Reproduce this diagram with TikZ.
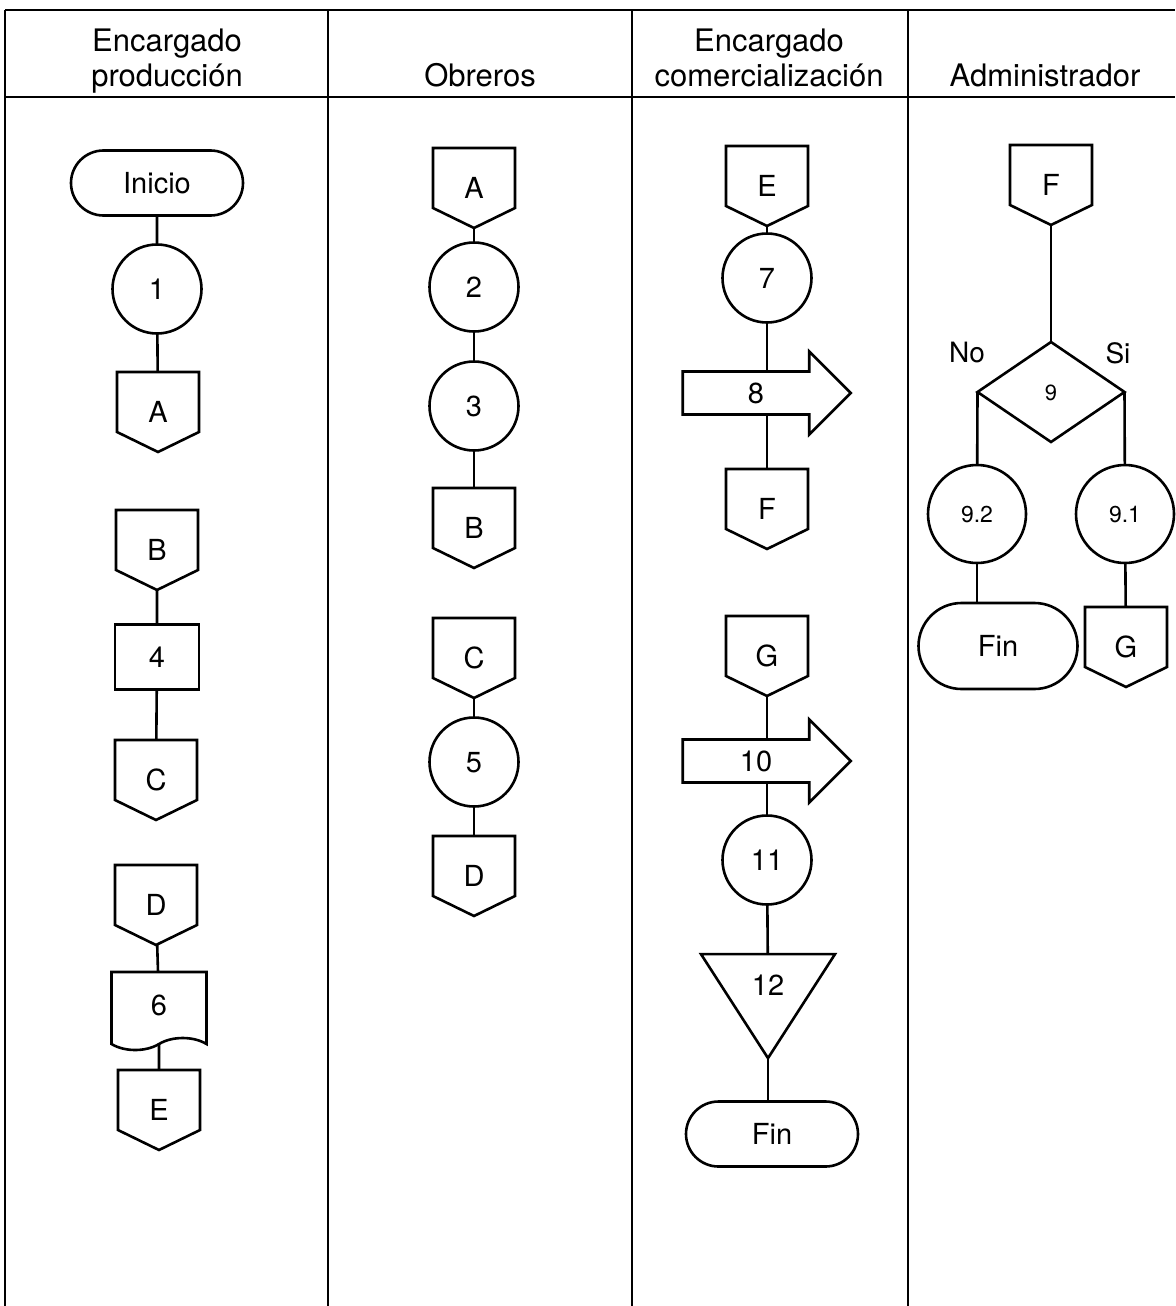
\documentclass[tikz,border=0pt]{standalone}
\usepackage{fontspec}
\setmainfont{TeX Gyre Heros}
\usetikzlibrary{shapes.misc,shapes.geometric,shapes.symbols,shapes.arrows}

% conector de pagina (pentagono hacia abajo)
\makeatletter
\def\offpagetip{20pt}
\pgfdeclareshape{offpage}{
  \inheritsavedanchors[from=rectangle]
  \inheritanchorborder[from=rectangle]
  \inheritanchor[from=rectangle]{center}
  \inheritanchor[from=rectangle]{north}
  \inheritanchor[from=rectangle]{south}
  \inheritanchor[from=rectangle]{east}
  \inheritanchor[from=rectangle]{west}
  \backgroundpath{
    \southwest \edef\opxl{\the\pgf@x}\edef\opyb{\the\pgf@y}
    \northeast \edef\opxr{\the\pgf@x}\edef\opyt{\the\pgf@y}
    \pgfpathmoveto{\pgfpoint{\opxl}{\opyt}}
    \pgfpathlineto{\pgfpoint{\opxr}{\opyt}}
    \pgfpathlineto{\pgfpoint{\opxr}{\opyb+\offpagetip}}
    \pgfpathlineto{\pgfpoint{(\opxl+\opxr)/2}{\opyb}}
    \pgfpathlineto{\pgfpoint{\opxl}{\opyb+\offpagetip}}
    \pgfpathclose
  }
}
\makeatother

\tikzset{
  lane/.style={line width=2.3pt},
  link/.style={line width=2.6pt},
  flownode/.style={
    draw,
    line width=2.6pt,
    fill=white,
    inner sep=0pt,
    outer sep=0pt,
    font=\fontsize{29}{32}\selectfont,
    text height=21pt,
    text depth=0pt
  },
  termbox/.style={flownode,rounded rectangle,minimum width=172pt,minimum height=65pt},
  procbox/.style={flownode,rectangle,minimum width=84pt,minimum height=65pt},
  opcirc/.style={flownode,circle,minimum size=89pt},
  subcirc/.style={opcirc,minimum size=98pt,font=\fontsize{23}{26}\selectfont,text height=16pt},
  pagebox/.style={flownode,shape=offpage,minimum width=82pt,minimum height=80pt},
  docbox/.style={flownode,tape,tape bend top=none,tape bend bottom=in and out,
    tape bend height=12pt,minimum width=95pt,minimum height=78pt},
  movebox/.style={flownode,single arrow,single arrow head extend=11pt,
    minimum width=83pt,minimum height=168pt},
  storebox/.style={flownode,isosceles triangle,isosceles triangle stretches=true,
    shape border rotate=270,minimum width=134pt,minimum height=104pt},
  decbox/.style={flownode,diamond,minimum width=147pt,minimum height=100pt,
    font=\fontsize{22}{24}\selectfont,text height=16pt},
  headtxt/.style={align=center,anchor=south,inner sep=0pt,
    font=\fontsize{31}{35}\selectfont,text depth=7pt},
  lbl/.style={inner sep=0pt,font=\fontsize{28}{30}\selectfont}
}

\begin{document}
\begin{tikzpicture}[x=1pt,y=-1pt]
  \useasboundingbox (0,0) rectangle (1175,1306);
  % carriles
  \draw[lane] (5,10) -- (1175,10);
  \draw[lane] (5,97) -- (1175,97);
  \foreach \x in {5,328,632,908}
    \draw[lane] (\x,10) -- (\x,1306);
  \node[headtxt] (h1) at (167,94) {Encargado\\producción};
  \node[headtxt] (h2) at (480,94) {Obreros};
  \node[headtxt] (h3) at (769,94) {Encargado\\comercialización};
  \node[headtxt] (h4) at (1045,94) {Administrador};

  % encargado produccion
  \node[termbox] (ini) at (157,183) {Inicio};
  \node[opcirc] (c1) at (157,289) {1};
  \node[pagebox] (pa1) at (158,412) {A};
  \node[pagebox] (pb1) at (157,550) {B};
  \node[procbox] (r4) at (157,657) {4};
  \node[pagebox] (pc1) at (156,780) {C};
  \node[pagebox] (pd1) at (156,905) {D};
  \node[docbox] (d6) at (159,1005) {6};
  \node[pagebox] (pe1) at (159,1110) {E};
  \draw[link] (ini) -- (c1) -- (pa1);
  \draw[link] (pb1) -- (r4) -- (pc1);
  \draw[link] (pd1) -- (d6) -- (pe1);

  % obreros
  \node[pagebox] (pa2) at (474,188) {A};
  \node[opcirc] (c2) at (474,287) {2};
  \node[opcirc] (c3) at (474,406) {3};
  \node[pagebox] (pb2) at (474,528) {B};
  \node[pagebox] (pc2) at (474,658) {C};
  \node[opcirc] (c5) at (474,762) {5};
  \node[pagebox] (pd2) at (474,876) {D};
  \draw[link] (pa2) -- (c2) -- (c3) -- (pb2);
  \draw[link] (pc2) -- (c5) -- (pd2);

  % encargado comercializacion
  \node[pagebox] (pe3) at (767,186) {E};
  \node[opcirc] (c7) at (767,278) {7};
  \node[pagebox] (pf3) at (767,509) {F};
  \node[pagebox] (pg3) at (767,656) {G};
  \node[opcirc] (c11) at (767,860) {11};
  \draw[link] (pe3) -- (c7) -- (pf3);
  \draw[link] (pg3) -- (c11);
  \node[movebox] (a8) at (756,393) {8};
  \node[movebox] (a10) at (756,761) {10};
  \node[storebox] (t12) at (768,985) {12};
  \node[termbox] (fin3) at (772,1134) {Fin};
  \draw[link] (c11) -- (t12);
  \draw[link] (t12.apex) -- (t12.apex |- fin3.north);

  % administrador
  \node[pagebox] (pf4) at (1051,185) {F};
  \node[decbox] (d9) at (1051,392) {9};
  \node[lbl] (no9) at (967,353) {No};
  \node[lbl] (si9) at (1118,353) {Si};
  \node[subcirc] (c92) at (977,514) {9.2};
  \node[subcirc] (c91) at (1125,514) {9.1};
  \node[termbox,minimum width=159pt,minimum height=86pt] (fin4) at (998,646) {Fin};
  \node[pagebox] (pg4) at (1126,647) {G};
  \draw[link] (pf4) -- (d9);
  \draw[link] (d9.west) -- (c92);
  \draw[link] (d9.east) -- (c91);
  \draw[link] (c92) -- (c92 |- fin4.north);
  \draw[link] (c91) -- (pg4);
\end{tikzpicture}
\end{document}
